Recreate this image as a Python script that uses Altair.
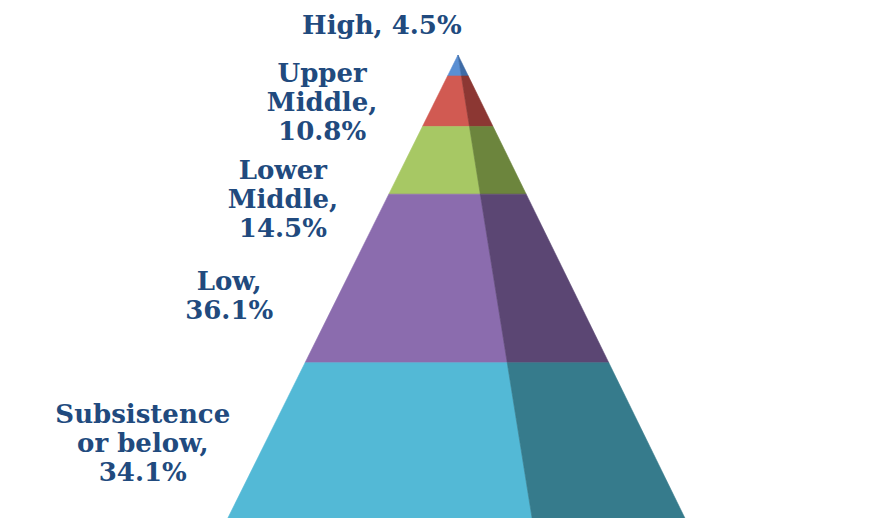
import altair as alt
import pandas as pd

# ---- data -------------------------------------------------------------
categories = ["High", "Upper Middle", "Lower Middle", "Low", "Subsistence or below"]
values = [4.5, 10.8, 14.5, 36.1, 34.1]          # percent, top to bottom
name_lines = [["High"], ["Upper", "Middle"], ["Lower", "Middle"], ["Low"], ["Subsistence", "or below"]]
single_line = [True, False, False, False, False]

front_colors = ["#5A8FD3", "#D15A52", "#A7C864", "#8B6CAE", "#53B9D6"]
side_colors = ["#3E6BA6", "#8C3733", "#6C853D", "#5B4673", "#367B8C"]

# label anchor positions of the first text line (chart units relative to apex)
label_x = [-16.3, -29.1, -37.5, -49.0, -67.5]
label_y = [-6.2, 4.0, 24.8, 48.6, 77.1]

# ---- geometry / layout constants -------------------------------------
PX_PER_UNIT = 4.67
APEX_X_PX, APEX_Y_PX = 458, 55
W, H = 896, 518
LEFT_SLOPE, RIDGE_SLOPE, RIGHT_SLOPE = -0.497, 0.16, 0.49

Y_MAX = (H - APEX_Y_PX) / PX_PER_UNIT
X_MIN = -APEX_X_PX / PX_PER_UNIT
X_MAX = (W - APEX_X_PX) / PX_PER_UNIT

rows = []
faces, face_colors = [], []
top = 0.0
for i, (cat, v) in enumerate(zip(categories, values)):
    bottom = top + v
    f_front, f_side = f"{i}-front", f"{i}-side"
    faces += [f_front, f_side]
    face_colors += [front_colors[i], side_colors[i]]
    for u in (top, bottom):
        rows.append({"face": f_front, "y": u, "x": LEFT_SLOPE * u, "x2": RIDGE_SLOPE * u})
        rows.append({"face": f_side, "y": u, "x": RIDGE_SLOPE * u, "x2": RIGHT_SLOPE * u})
    top = bottom
faces_df = pd.DataFrame(rows)

labels = []
for lines, single, v in zip(name_lines, single_line, values):
    labels.append("\n".join(lines) + ("," + (" " if single else "\n")) + f"{v}%")
labels_df = pd.DataFrame({"label": labels, "lx": label_x, "ly": label_y})

yscale = alt.Scale(domain=[0, Y_MAX], reverse=True, nice=False, zero=False)
xscale = alt.Scale(domain=[X_MIN, X_MAX], nice=False, zero=False)
cscale = alt.Scale(domain=faces, range=face_colors)

pyramid = alt.Chart(faces_df).mark_area(
    orient="horizontal", interpolate="linear", clip=True, strokeWidth=0.6, opacity=1
).encode(
    y=alt.Y("y:Q", scale=yscale, axis=None),
    x=alt.X("x:Q", scale=xscale, axis=None),
    x2="x2:Q",
    color=alt.Color("face:N", scale=cscale, legend=None),
    stroke=alt.Color("face:N", scale=cscale, legend=None),
)

text = alt.Chart(labels_df).mark_text(
    font="DejaVu Serif", fontWeight="bold", fontSize=26, color="#214A7E",
    align="center", baseline="middle", lineBreak="\n", lineHeight=29,
).encode(
    x=alt.X("lx:Q", scale=xscale, axis=None),
    y=alt.Y("ly:Q", scale=yscale, axis=None),
    text="label:N",
)

chart = alt.layer(pyramid, text).properties(
    width=W, height=H - APEX_Y_PX,
    padding={"left": 0, "top": APEX_Y_PX, "right": 0, "bottom": 0},
    autosize="none",
    background="white",
).configure_view(stroke=None)

chart.save("out.html", embed_options={"renderer": "svg", "actions": False})
